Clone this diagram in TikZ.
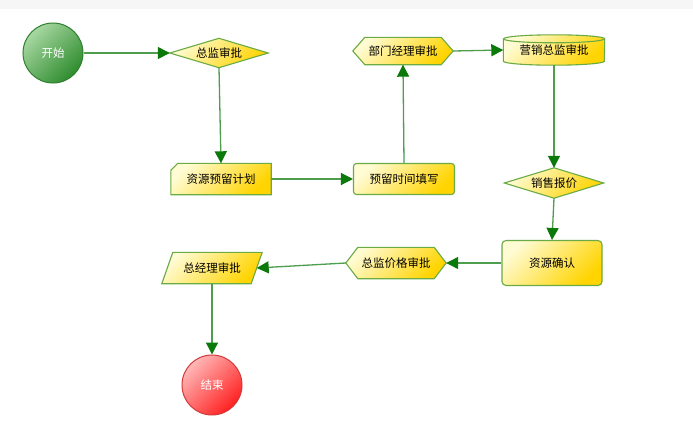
\documentclass[tikz,border=0pt]{standalone}
\usepackage{fontspec}
\newfontfamily\cjk{Noto Sans CJK SC}
\usetikzlibrary{arrows.meta,calc,backgrounds}
\definecolor{ylight}{HTML}{FFFBD2}
\definecolor{ydark}{HTML}{FFD400}
\definecolor{yborder}{HTML}{6AAB45}
\definecolor{glight}{HTML}{A8D8A2}
\definecolor{gdark}{HTML}{2E8C2E}
\definecolor{gborder}{HTML}{2F7F2F}
\definecolor{rlight}{HTML}{FFB8B8}
\definecolor{rdark}{HTML}{FF2020}
\definecolor{rborder}{HTML}{D23A3A}
\definecolor{linegreen}{HTML}{4E9E4E}
\definecolor{tipgreen}{HTML}{0B7A0B}
\definecolor{topband}{HTML}{F6F6F6}
\tikzset{
  x=1pt, y=-1pt,
  lbl/.style={rectangle, inner sep=0pt, font=\cjk\fontsize{11.5}{13}\selectfont, text=black},
  yfill/.style={draw=yborder, line width=1.1pt, top color=ylight, bottom color=ydark, shading angle=45},
  roundbox/.style={lbl, yfill, rounded corners=#1},
  startball/.style={circle, minimum size=60pt, inner sep=0pt, draw=gborder, line width=1pt,
     top color=glight, bottom color=gdark, shading angle=45, text=white, font=\cjk\fontsize{11.5}{13}\selectfont},
  endball/.style={circle, minimum size=60pt, inner sep=0pt, draw=rborder, line width=1pt,
     top color=rlight, bottom color=rdark, shading angle=45, text=white, font=\cjk\fontsize{11.5}{13}\selectfont},
  conn/.style={draw=linegreen, line width=1.3pt, -{Triangle[length=12pt,width=12pt,color=tipgreen]}},
}
\begin{document}
\begin{tikzpicture}
\useasboundingbox (0,0) rectangle (693,426);

% nodes
\node[startball] (start) at (53,53) {开始};
\node[lbl, minimum width=98pt, minimum height=29pt] (zjsp) at (219,53) {总监审批};
\node[lbl, minimum width=100pt, minimum height=31pt] (zyyl) at (221,179) {资源预留计划};
\node[roundbox=3pt, minimum width=101pt, minimum height=31pt] (ylsj) at (404,179) {预留时间填写};
\node[lbl, minimum width=100pt, minimum height=27pt] (bmjl) at (403,51) {部门经理审批};
\node[lbl, minimum width=101pt, minimum height=30pt] (yxzj) at (554,50) {营销总监审批};
\node[lbl, minimum width=99pt, minimum height=30pt] (xsbj) at (554,183) {销售报价};
\node[roundbox=4pt, minimum width=100pt, minimum height=45pt] (zyqr) at (552,263) {资源确认};
\node[lbl, minimum width=100pt, minimum height=31pt] (zjjg) at (396,263) {总监价格审批};
\node[lbl, minimum width=100pt, minimum height=31pt] (zjl) at (212,268) {总经理审批};
\node[endball] (end) at (212,385) {结束};
\coordinate (zjlE) at ([xshift=-5.5pt]zjl.east);

% shapes behind the labels
\begin{scope}[on background layer]
  \fill[white] (0,0) rectangle (693,426);
  \fill[topband] (0,0) rectangle (693,9);
  \shade[yfill] (zjsp.west) -- (zjsp.north) -- (zjsp.east) -- (zjsp.south) -- cycle;
  \shade[yfill] (xsbj.west) -- (xsbj.north) -- (xsbj.east) -- (xsbj.south) -- cycle;
  \shade[yfill] ([yshift=-7pt]zyyl.north west) -- ([xshift=7pt]zyyl.north west) -- (zyyl.north east)
     -- (zyyl.south east) -- (zyyl.south west) -- cycle;
  \shade[yfill] (bmjl.west) -- ([xshift=12pt]bmjl.north west) -- ([xshift=-12pt]bmjl.north east)
     -- (bmjl.east) -- ([xshift=-12pt]bmjl.south east) -- ([xshift=12pt]bmjl.south west) -- cycle;
  \shade[yfill] (zjjg.west) -- ([xshift=12pt]zjjg.north west) -- ([xshift=-12pt]zjjg.north east)
     -- (zjjg.east) -- ([xshift=-12pt]zjjg.south east) -- ([xshift=12pt]zjjg.south west) -- cycle;
  \shade[yfill] ([xshift=11pt]zjl.north west) -- (zjl.north east) -- ([xshift=-11pt]zjl.south east)
     -- (zjl.south west) -- cycle;
  \shade[yfill] ([yshift=-4pt]yxzj.north west) -- ([yshift=4pt]yxzj.south west)
     arc[start angle=180, end angle=360, x radius=50.5pt, y radius=4pt]
     -- ([yshift=-4pt]yxzj.north east)
     arc[start angle=0, end angle=180, x radius=50.5pt, y radius=4pt] -- cycle;
  \draw[yborder, line width=1.1pt] ([yshift=-4pt]yxzj.north west)
     arc[start angle=180, end angle=360, x radius=50.5pt, y radius=4pt];
\end{scope}

% connectors
\draw[conn] (start) -- (zjsp.west);
\draw[conn] (zjsp.south) -- (zyyl.north);
\draw[conn] (zyyl.east) -- (ylsj.west);
\draw[conn] (ylsj.north) -- (bmjl.south);
\draw[conn] (bmjl.east) -- (yxzj.west);
\draw[conn] (yxzj.south) -- (xsbj.north);
\draw[conn] (xsbj.south) -- (zyqr.north);
\draw[conn] (zyqr.west) -- (zjjg.east);
\draw[conn] (zjjg.west) -- (zjlE);
\draw[conn] (zjl.south) -- (end.north);
\end{tikzpicture}
\end{document}
